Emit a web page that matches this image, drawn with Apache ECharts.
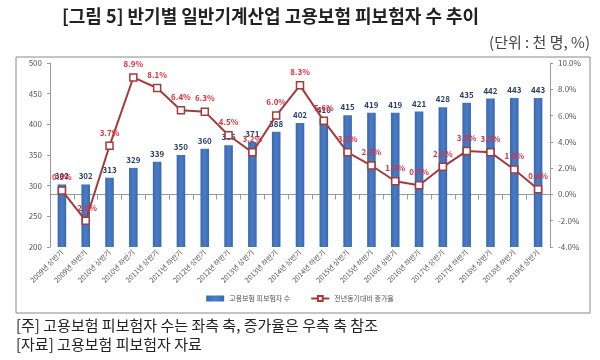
<!DOCTYPE html>
<html>
<head>
<meta charset="utf-8">
<script src="https://cdn.jsdelivr.net/npm/echarts@6/dist/echarts.min.js"></script>
<style>
html,body{margin:0;padding:0;background:#fff;}
#c{width:600px;height:360px;}
</style>
</head>
<body>
<div id="c"></div>
<script>
var categories = ['2009년 상반기','2009년 하반기','2010년 상반기','2010년 하반기','2011년 상반기','2011년 하반기','2012년 상반기','2012년 하반기','2013년 상반기','2013년 하반기','2014년 상반기','2014년 하반기','2015년 상반기','2015년 하반기','2016년 상반기','2016년 하반기','2017년 상반기','2017년 하반기','2018년 상반기','2018년 하반기','2019년 상반기'];
var insured = [302,302,313,329,339,350,360,366,371,388,402,410,415,419,419,421,428,435,442,443,443];
var growth = [0.3,-2.0,3.7,8.9,8.1,6.4,6.3,4.5,3.2,6.0,8.3,5.6,3.2,2.2,1.0,0.7,2.1,3.3,3.2,1.9,0.4];
var seriesNames = ['고용보험 피보험자 수','전년동기대비 증가율'];

var FONT = '"Noto Sans CJK KR", "Noto Sans", sans-serif';
var chart = echarts.init(document.getElementById('c'));
chart.setOption({
  animation:false,
  textStyle:{fontFamily:FONT},
  graphic:[
    {type:'rect',shape:{x:16,y:57,width:574,height:256},style:{fill:'none',stroke:'#888',lineWidth:1}},
    {type:'text',left:62,top:7,style:{text:'[그림 5] 반기별 일반기계산업 고용보험 피보험자 수 추이',font:'bold 18px '+FONT,fill:'#222'}},
    {type:'text',right:10,top:35,style:{text:'(단위 : 천 명, %)',font:'15px '+FONT,fill:'#444'}},
    {type:'text',left:16,top:318,style:{text:'[주] 고용보험 피보험자 수는 좌측 축, 증가율은 우측 축 참조',font:'15px '+FONT,fill:'#222'}},
    {type:'text',left:16,top:337,style:{text:'[자료] 고용보험 피보험자 자료',font:'15px '+FONT,fill:'#222'}}
  ],
  legend:{
    bottom:53,left:'center',itemWidth:18,itemHeight:6,itemGap:20,
    textStyle:{fontSize:7,color:'#555'},
    data:[{name:seriesNames[0],icon:'rect'},{name:seriesNames[1]}]
  },
  grid:{left:50,right:50,top:63,bottom:113},
  xAxis:{
    type:'category',data:categories,
    axisLine:{lineStyle:{color:'#999'}},
    axisTick:{show:true,lineStyle:{color:'#999'}},
    axisLabel:{rotate:45,fontSize:7,color:'#555',interval:0,margin:4}
  },
  yAxis:[
    {type:'value',min:200,max:500,interval:50,splitLine:{show:false},
     axisLine:{show:true,lineStyle:{color:'#999'}},axisTick:{show:true,length:3},
     axisLabel:{fontSize:8,color:'#555',margin:8}},
    {type:'value',min:-4,max:10,interval:2,splitLine:{show:false},
     axisLine:{show:true,lineStyle:{color:'#999'}},axisTick:{show:true,length:3},
     axisLabel:{fontSize:8,color:'#555',margin:8,formatter:function(v){return v.toFixed(1)+'%';}}}
  ],
  series:[
    {name:seriesNames[0],type:'bar',data:insured,barWidth:'36%',yAxisIndex:0,
     itemStyle:{color:new echarts.graphic.LinearGradient(0,0,1,0,[{offset:0,color:'#3a68ad'},{offset:0.5,color:'#4a7cc6'},{offset:1,color:'#3a68ad'}])},
     label:{show:true,position:'top',fontSize:8,fontWeight:'bold',color:'#2b3f6b',distance:4}},
    {name:seriesNames[1],type:'line',data:growth,yAxisIndex:1,
     symbol:'rect',symbolSize:7,
     lineStyle:{color:'#a63a3a',width:2},
     itemStyle:{color:'#fff',borderColor:'#a63a3a',borderWidth:1.5},
     label:{show:true,position:'top',fontSize:8,fontWeight:'bold',color:'#e0303a',distance:5,
       formatter:function(p){return p.value.toFixed(1)+'%';}},
     z:5}
  ]
});
</script>
</body>
</html>
